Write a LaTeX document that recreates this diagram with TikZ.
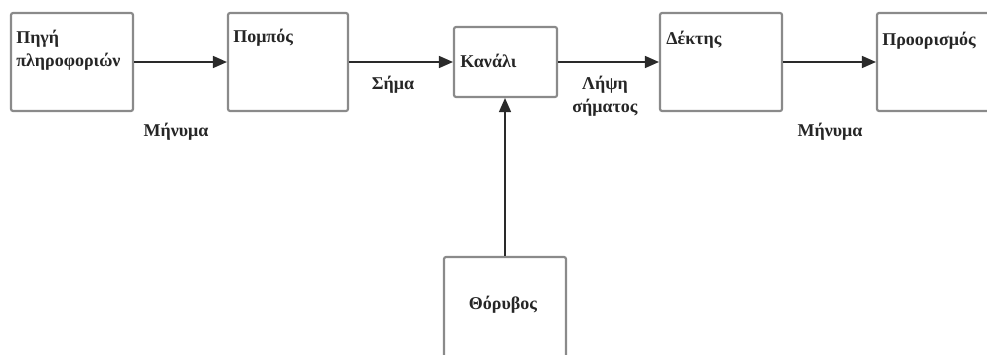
\documentclass[tikz,border=0pt]{standalone}
\usepackage{fontspec}
\setmainfont{Liberation Serif}
\usetikzlibrary{arrows.meta}
\definecolor{boxgray}{HTML}{8A8A8A}
\definecolor{linegray}{HTML}{2A2A2A}
\tikzset{
  blockbox/.style={draw=boxgray, line width=1.6pt, rounded corners=1.5pt, fill=white, inner sep=0pt},
  conn/.style={draw=linegray, line width=1.1pt, -{Triangle[length=10.5pt,width=9pt]}},
  lbl/.style={font=\bfseries\fontsize{13.5}{17}\selectfont, text=black!85, inner sep=0pt},
  boxtxt/.style={lbl, anchor=west, align=left}
}
\begin{document}
\begin{tikzpicture}[x=0.75pt,y=-0.75pt]
\useasboundingbox (0,0) rectangle (987,354);
\clip (0,0) rectangle (987,354);
\fill[white] (0,0) rectangle (987,354);
% boxes
\node[blockbox, minimum width=91.5pt, minimum height=73.5pt] (src) at (72,62) {};
\node[blockbox, minimum width=90pt, minimum height=73.5pt] (tx) at (288,62) {};
\node[blockbox, minimum width=77.25pt, minimum height=52.5pt] (ch) at (505.5,62) {};
\node[blockbox, minimum width=91.5pt, minimum height=73.5pt] (rx) at (721,62) {};
\node[blockbox, minimum width=91.5pt, minimum height=73.5pt] (dst) at (938,62) {};
\node[blockbox, minimum width=91.5pt, minimum height=75pt] (noise) at (505,307) {};
% box texts
\node[boxtxt] (tsrc) at (16,50) {Πηγή\\πληροφοριών};
\node[boxtxt] (ttx) at (233,38) {Πομπός};
\node[boxtxt] (tch) at (460,61) {Κανάλι};
\node[boxtxt] (trx) at (666,40) {Δέκτης};
\node[boxtxt] (tdst) at (882,41) {Προορισμός};
\node[lbl] (tnoise) at (503,305) {Θόρυβος};
% connectors
\draw[conn] (src.east) -- (tx.west);
\draw[conn] (tx.east) -- (ch.west);
\draw[conn] (ch.east) -- (rx.west);
\draw[conn] (rx.east) -- (dst.west);
\draw[conn] (noise.north) -- (noise.north |- ch.south);
% connector labels
\node[lbl] (m1) at (176,132) {Μήνυμα};
\node[lbl] (s1) at (393,85) {Σήμα};
\node[lbl, align=center] (l1) at (605,96) {Λήψη\\σήματος};
\node[lbl] (m2) at (830,132) {Μήνυμα};
\end{tikzpicture}
\end{document}
